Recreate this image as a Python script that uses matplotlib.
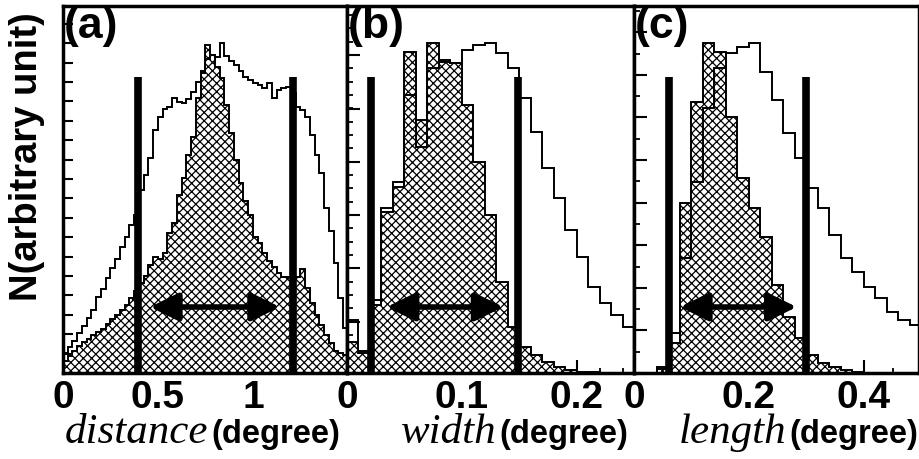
import numpy as np
import matplotlib
matplotlib.use("Agg")
import matplotlib.pyplot as plt
from matplotlib.ticker import FixedLocator, NullFormatter

# ---------------- data (arbitrary units) ----------------
dist_bin = 0.025
dist_all = [20, 26, 32, 40, 47, 55, 63, 76, 84, 95, 105, 114, 126, 136, 148, 158,
            183, 198, 215, 243, 256, 264, 266, 275, 271, 270, 274, 281, 291, 302,
            314, 318, 316, 330, 317, 312, 308, 302, 296, 293, 290, 288, 285, 290,
            275, 283, 285, 286, 280, 266, 263, 256, 238, 218, 200, 165, 142, 110, 75, 45]
dist_sel = [12, 17, 22, 27, 31, 34, 38, 41, 44, 49, 54, 58, 63, 68, 75, 82,
            90, 97, 108, 116, 114, 120, 140, 150, 178, 195, 218, 236, 275, 300,
            328, 318, 306, 295, 268, 240, 213, 190, 172, 158, 136, 130, 120, 112,
            106, 100, 96, 96, 96, 96, 104, 85, 70, 58, 48, 38, 30, 22, 20, 18]

width_bin = 0.01
width_all = [53, 22, 73, 165, 191, 278, 226, 305, 313, 310, 323, 328, 330, 320, 305,
             275, 241, 205, 175, 143, 116, 86, 70, 58, 46]
width_sel = [31, 20, 68, 161, 186, 321, 253, 330, 311, 310, 268, 211, 158, 91, 46,
             26, 18, 11, 6, 3, 1, 1, 0, 0, 0]

length_bin = 0.02
length_all = [0, 0, 6, 40, 115, 191, 265, 305, 320, 326, 330, 301, 273, 240, 215,
              185, 165, 138, 115, 101, 86, 75, 61, 53, 48]
length_sel = [0, 0, 4, 30, 170, 271, 330, 321, 256, 195, 165, 136, 88, 56, 35,
              18, 10, 6, 3, 1, 0, 0, 0, 0, 0]

cuts = {"a": [0.397, 1.21], "b": [0.0213, 0.149], "c": [0.061, 0.299]}
cut_height = 296
arrows = {"a": [0.458, 1.142], "b": [0.0345, 0.136], "c": [0.08, 0.283]}
arrow_height = 66

panel_names = ["(a)", "(b)", "(c)"]
xlabels_word = ["distance", "width", "length"]
xmajor = {"a": [0, 0.5, 1.0], "b": [0, 0.1, 0.2], "c": [0, 0.2, 0.4]}
xmajor_labels = {"a": ["0", "0.5", "1"], "b": ["0", "0.1", "0.2"], "c": ["0", "0.2", "0.4"]}
xminor_step = {"a": 0.1, "b": 0.02, "c": 0.05}

# ---------------- figure ----------------
W, H = 920, 459
plt.rcParams["hatch.linewidth"] = 0.9
plt.rcParams["font.family"] = ["Liberation Sans", "DejaVu Sans"]
fig = plt.figure(figsize=(W / 100, H / 100), dpi=100)

bottom = 1 - 373 / H
height = (373 - 6) / H
rects = {"a": (63, 347), "b": (347, 634), "c": (634, 919)}
xmax = {"a": 1.495, "b": 0.2496, "c": 0.4957}
ytick_major = {
    "a": np.arange(0, 367, 19.4),
    "b": np.arange(51.3 - 53.3, 367, 53.3),
    "c": np.arange(0, 367, 42.6),
}
ytick_minor = {
    "a": [],
    "b": np.arange(51.3 - 53.3, 367, 13.33),
    "c": np.arange(0, 367, 21.3),
}
series = {
    "a": (dist_bin, dist_all, dist_sel),
    "b": (width_bin, width_all, width_sel),
    "c": (length_bin, length_all, length_sel),
}

for i, key in enumerate(["a", "b", "c"]):
    l, r = rects[key]
    ax = fig.add_axes([l / W, bottom, (r - l) / W, height])
    binw, v_all, v_sel = series[key]
    edges = np.arange(len(v_all) + 1) * binw
    ax.stairs(v_sel, edges, fill=True, facecolor="white", edgecolor="black",
              hatch="xxxx", linewidth=1.4, zorder=2)
    ax.stairs(v_all, edges, fill=False, color="black", linewidth=1.4,
              baseline=None, zorder=3)
    for c in cuts[key]:
        ax.plot([c, c], [0, cut_height], color="black", linewidth=5.5,
                solid_capstyle="butt", zorder=4)
    x0, x1 = arrows[key]
    ax.annotate("", xy=(x1, arrow_height), xytext=(x0, arrow_height),
                arrowprops=dict(arrowstyle="<|-|>,head_length=0.85,head_width=0.42",
                                lw=4, color="black", mutation_scale=20,
                                shrinkA=0, shrinkB=0), zorder=5)
    ax.set_xlim(0, xmax[key])
    ax.set_ylim(0, 367)
    ax.xaxis.set_major_locator(FixedLocator(xmajor[key]))
    ax.set_xticklabels(xmajor_labels[key], fontsize=28, fontweight="bold")
    ax.xaxis.set_minor_locator(FixedLocator(np.arange(0, xmax[key], xminor_step[key])))
    ax.yaxis.set_major_locator(FixedLocator(ytick_major[key]))
    ax.yaxis.set_minor_locator(FixedLocator(ytick_minor[key]))
    ax.yaxis.set_major_formatter(NullFormatter())
    ax.tick_params(axis="x", which="major", direction="in", length=9.5, width=1.5,
                   pad=5, top=False)
    ax.tick_params(axis="x", which="minor", direction="in", length=3.6, width=1.3,
                   top=False)
    ylen = 7.5 if key == "a" else 9.4
    ax.tick_params(axis="y", which="major", direction="in", length=ylen, width=1.5,
                   right=False, labelleft=False)
    ax.tick_params(axis="y", which="minor", direction="in", length=4.3, width=1.3,
                   right=False)
    for sp in ax.spines.values():
        sp.set_linewidth(2.5)
        sp.set_zorder(6)
    ax.text(0.003, 1.0, panel_names[i], transform=ax.transAxes, ha="left",
            va="top", fontsize=32, fontweight="bold", zorder=7)

fig.text(27 / W, 1 - 157 / H, "N(arbitrary unit)", rotation=90, ha="center",
         va="center", fontsize=27.5, fontweight="bold")

fig.canvas.draw()
renderer = fig.canvas.get_renderer()
base_y = 1 - 443 / H
for right_px, word in zip([340, 628, 918], xlabels_word):
    t2 = fig.text(right_px / W, base_y, "(degree)", ha="right", va="baseline",
                  fontsize=23.5, fontweight="bold")
    bb = t2.get_window_extent(renderer=renderer)
    fig.text((bb.x0 - 3) / W, base_y, word, ha="right", va="baseline",
             fontsize=31, style="italic", family=["Liberation Serif", "DejaVu Serif"])

fig.savefig("out.png", dpi=100)
